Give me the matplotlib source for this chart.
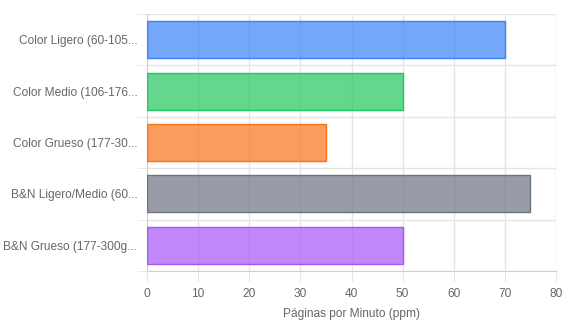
import matplotlib.pyplot as plt
from matplotlib.ticker import MultipleLocator

plt.rcParams['font.family'] = ['Liberation Sans', 'DejaVu Sans']

labels = ['Color Ligero (60-105...', 'Color Medio (106-176...', 'Color Grueso (177-30...',
          'B&N Ligero/Medio (60...', 'B&N Grueso (177-300g...']
ppm = [70, 50, 35, 75, 50]
borders = ['#3b82f6', '#22c55e', '#f97316', '#6b7280', '#a855f7']
fills = [(59/255, 130/255, 246/255, 0.7), (34/255, 197/255, 94/255, 0.7),
         (249/255, 115/255, 22/255, 0.7), (107/255, 114/255, 128/255, 0.7),
         (168/255, 85/255, 247/255, 0.7)]

fig = plt.figure(figsize=(5.69, 3.29), dpi=100)
ax = fig.add_axes([147/569, 58/329, 409/569, 257/329])

pos = list(range(len(labels)))
ax.barh(pos, ppm, height=0.72, color=fills, edgecolor=borders, linewidth=1, zorder=3)

ax.set_xlim(0, 80)
ax.set_ylim(len(labels) - 0.5, -0.5)
ax.xaxis.set_major_locator(MultipleLocator(10))
ax.set_yticks(pos)
ax.set_yticklabels(labels)
ax.set_yticks([i - 0.5 for i in range(len(labels) + 1)], minor=True)

grid_c = '#e5e5e5'
ax.grid(axis='x', which='major', color=grid_c, linewidth=1, zorder=0)
ax.grid(axis='y', which='minor', color=grid_c, linewidth=1, zorder=0)

ax.tick_params(axis='x', which='major', length=7, color=grid_c, labelsize=8.6,
               labelcolor='#666666', pad=5)
ax.tick_params(axis='y', which='major', length=0, labelsize=8.6,
               labelcolor='#666666', pad=7)
ax.tick_params(axis='y', which='minor', length=7, color=grid_c)

for s in ['top', 'right']:
    ax.spines[s].set_visible(False)
ax.spines['left'].set_color('#d0d0d0')
ax.spines['bottom'].set_color('#d0d0d0')

ax.set_xlabel('Páginas por Minuto (ppm)', fontsize=8.6, color='#666666', labelpad=6)

fig.savefig('out.png', dpi=100)
